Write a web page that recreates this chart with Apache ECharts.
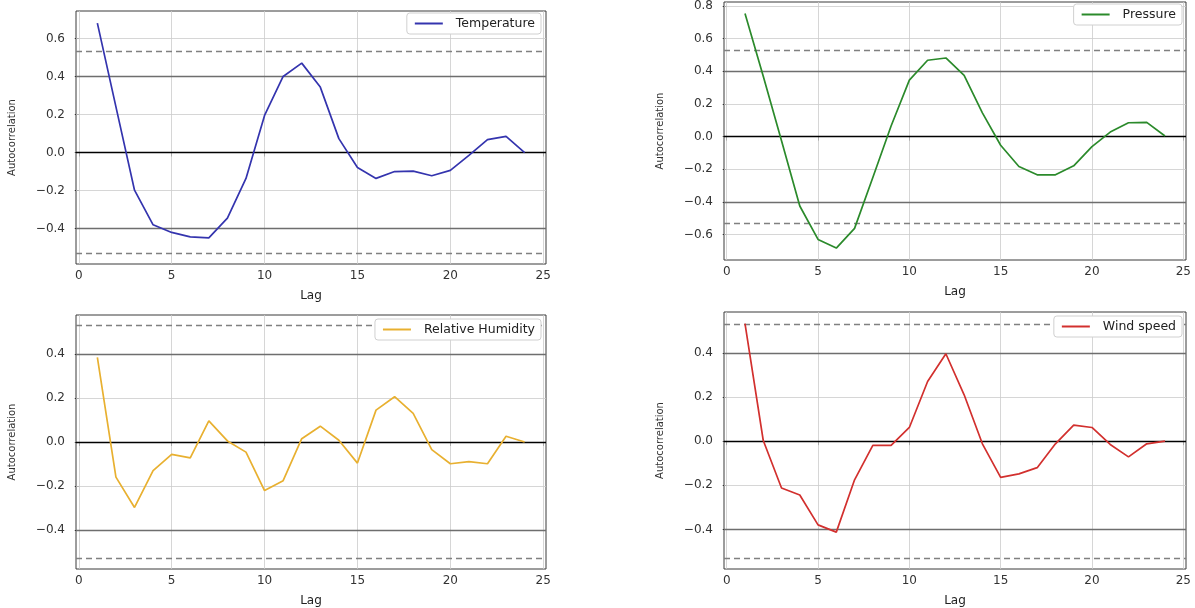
<!DOCTYPE html>
<html>
<head>
<meta charset="utf-8">
<script src="https://cdn.jsdelivr.net/npm/echarts@6/dist/echarts.min.js"></script>
<style>
html,body{margin:0;padding:0;background:#fff;}
#chart{width:1195px;height:608px;}
</style>
</head>
<body>
<div id="chart"></div>
<script>
// ---- data ----
const lags = [1,2,3,4,5,6,7,8,9,10,11,12,13,14,15,16,17,18,19,20,21,22,23,24];
const temperature = [0.68,0.24,-0.198,-0.38,-0.42,-0.443,-0.449,-0.345,-0.136,0.195,0.40,0.47,0.344,0.073,-0.079,-0.136,-0.10,-0.098,-0.122,-0.094,-0.015,0.068,0.085,0.0];
const pressure = [0.755,0.37,-0.025,-0.425,-0.63,-0.683,-0.562,-0.25,0.065,0.346,0.468,0.482,0.376,0.146,-0.053,-0.183,-0.234,-0.234,-0.179,-0.061,0.028,0.085,0.087,0.004];
const humidity = [0.385,-0.16,-0.298,-0.13,-0.056,-0.072,0.096,0.005,-0.046,-0.221,-0.176,0.015,0.072,0.008,-0.096,0.145,0.206,0.13,-0.035,-0.099,-0.089,-0.099,0.026,0.0];
const windSpeed = [0.532,0.003,-0.212,-0.244,-0.379,-0.412,-0.175,-0.019,-0.019,0.062,0.27,0.396,0.21,-0.012,-0.164,-0.148,-0.12,-0.012,0.073,0.062,-0.015,-0.071,-0.012,0.0];
const seriesNames = ['Temperature','Pressure','Relative Humidity','Wind speed'];
const xTicks = [0,5,10,15,20,25];
const yTicksTemp = [-0.4,-0.2,0.0,0.2,0.4,0.6];
const yTicksPres = [-0.6,-0.4,-0.2,0.0,0.2,0.4,0.6,0.8];
const yTicksHum = [-0.4,-0.2,0.0,0.2,0.4];
const yTicksWind = [-0.4,-0.2,0.0,0.2,0.4];
const xRange = [-0.15, 25.15];
const yRangeTemp = [-0.586, 0.744];
const yRangePres = [-0.756, 0.825];
const yRangeHum = [-0.578, 0.578];
const yRangeWind = [-0.579, 0.585];
const conf95 = 0.4001;   // 1.96/sqrt(24)
const conf99 = 0.5258;   // 2.576/sqrt(24)

// ---- layout/styles ----
const panels = [
  {data: temperature, color:'#3434ae', yr: yRangeTemp, yt: yTicksTemp, grid:{left:76, top:11, width:470, height:253}, legend:{right:654, top:13}},
  {data: pressure, color:'#2b8a2b', yr: yRangePres, yt: yTicksPres, grid:{left:724, top:2, width:462, height:258}, legend:{right:13, top:4}},
  {data: humidity, color:'#e8b030', yr: yRangeHum, yt: yTicksHum, grid:{left:76, top:315, width:470, height:254}, legend:{right:654, top:319}},
  {data: windSpeed, color:'#d2302e', yr: yRangeWind, yt: yTicksWind, grid:{left:724, top:312, width:462, height:259}, legend:{right:13, top:316}}
];
const FONT = 'DejaVu Sans';
const fmtY = v => (Math.round(v*10)/10).toFixed(1).replace('-', '\u2212');

const option = {animation:false, backgroundColor:'#fff', grid:[], xAxis:[], yAxis:[], series:[], legend:[]};
panels.forEach((p, i) => {
  option.grid.push(Object.assign({show:true, borderColor:'#3a3a3a', borderWidth:1, backgroundColor:'transparent', containLabel:false}, p.grid));
  option.xAxis.push({
    type:'value', gridIndex:i, min:xRange[0], max:xRange[1],
    name:'Lag', nameLocation:'middle', nameGap:26,
    nameTextStyle:{fontFamily:FONT, fontSize:12, color:'#222'},
    axisLine:{show:false},
    axisTick:{show:true, length:4, lineStyle:{color:'#333'}, customValues:xTicks},
    axisLabel:{fontFamily:FONT, fontSize:12, color:'#333', margin:6, customValues:xTicks, formatter: v => String(v)},
    splitLine:{show:false}
  });
  option.yAxis.push({
    type:'value', gridIndex:i, min:p.yr[0], max:p.yr[1],
    name:'Autocorrelation', nameLocation:'middle', nameGap:59,
    nameTextStyle:{fontFamily:FONT, fontSize:10, color:'#333'},
    axisLine:{show:false},
    axisTick:{show:true, length:4, lineStyle:{color:'#333'}, customValues:p.yt},
    axisLabel:{fontFamily:FONT, fontSize:12, color:'#333', margin:11, customValues:p.yt, formatter: fmtY},
    splitLine:{show:false}
  });
  const gridLines = [];
  xTicks.forEach(v => gridLines.push({xAxis:v, lineStyle:{color:'#cccccc', width:0.8, type:'solid'}}));
  p.yt.forEach(v => gridLines.push({yAxis:v, lineStyle:{color:'#cccccc', width:0.8, type:'solid'}}));
  gridLines.push({yAxis:conf99, lineStyle:{color:'#808080', width:1.3, type:[6,4]}});
  gridLines.push({yAxis:-conf99, lineStyle:{color:'#808080', width:1.3, type:[6,4]}});
  gridLines.push({yAxis:conf95, lineStyle:{color:'#6e6e6e', width:1.4, type:'solid'}});
  gridLines.push({yAxis:-conf95, lineStyle:{color:'#6e6e6e', width:1.4, type:'solid'}});
  gridLines.push({yAxis:0, lineStyle:{color:'#000', width:1.4, type:'solid'}});
  option.series.push({
    name:'_ref'+i, type:'line', xAxisIndex:i, yAxisIndex:i, data:[], z:1, silent:true,
    markLine:{silent:true, z:1, symbol:['none','none'], label:{show:false}, animation:false, data:gridLines}
  });
  option.series.push({
    name:seriesNames[i], type:'line', xAxisIndex:i, yAxisIndex:i, z:3,
    data: lags.map((l, k) => [l, p.data[k]]),
    symbol:'none', showSymbol:false, smooth:false,
    lineStyle:{color:p.color, width:1.7}, itemStyle:{color:p.color}
  });
  option.legend.push({
    data:[seriesNames[i]], right:p.legend.right, top:p.legend.top, orient:'vertical', z:20,
    icon:'rect', itemWidth:28, itemHeight:2, itemGap:4,
    backgroundColor:'#ffffff', borderColor:'#d0d0d0', borderWidth:1, borderRadius:3,
    padding:[4,6,4,8],
    textStyle:{fontFamily:FONT, fontSize:12.5, color:'#222', padding:[0,0,0,8]}
  });
});

const chart = echarts.init(document.getElementById('chart'), null, {renderer:'canvas'});
chart.setOption(option);
</script>
</body>
</html>
